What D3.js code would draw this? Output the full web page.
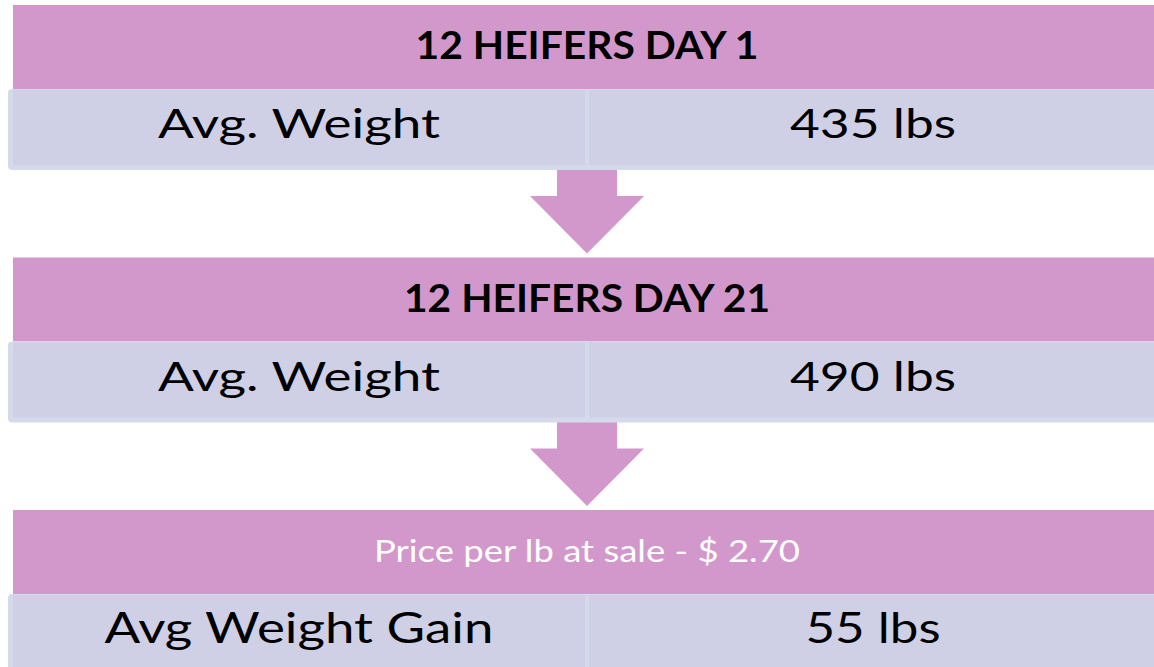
<!DOCTYPE html>
<html>
<head>
<meta charset="utf-8">
<script src="https://cdn.jsdelivr.net/npm/d3@7"></script>
<style>
  html, body { margin: 0; padding: 0; background: #ffffff; }
  svg { display: block; }
</style>
</head>
<body>
<svg id="chart" width="1154" height="667"></svg>
<script>
// ---- data ----
const steps = [0, 1, 2];
const headers = ["12 HEIFERS DAY 1", "12 HEIFERS DAY 21", "Price per lb at sale - $ 2.70"];
const labels = ["Avg. Weight", "Avg. Weight", "Avg Weight Gain"];
const values = ["435 lbs", "490 lbs", "55 lbs"];
const columns = ["label", "value"];

// ---- layout (rendered text widths, matching the original typeface) ----
const headerWidths = [343, 366, 426];
const labelWidths = [282, 282, 389];
const valueWidths = [166, 166, 135];

const W = 1154, H = 667;
const pink = "#D398CB", lav = "#CFD0E6", edge = "#D4DAEA";
const svg = d3.select("#chart");

const y = d3.scaleLinear().domain([0, 2]).range([5, 510]);    // top of each block
const x = d3.scaleBand().domain(columns).range([13, 1161]).padding(0);
const headerH = 84, rowH = 81;
const font = "Lato, 'Open Sans', sans-serif";

// arrows
const mid = x("value");
const arrowG = svg.append("g");
steps.slice(0, 2).forEach(i => {
  const top = y(i) + headerH + rowH - 5;
  const base = y(i) + headerH + rowH + 26;
  const tip = y(i + 1) - 4;
  const p = d3.path();
  p.moveTo(mid - 30, top);
  p.lineTo(mid + 30, top);
  p.lineTo(mid + 30, base);
  p.lineTo(mid + 57, base);
  p.lineTo(mid, tip);
  p.lineTo(mid - 57, base);
  p.lineTo(mid - 30, base);
  p.closePath();
  arrowG.append("path").attr("d", p.toString()).attr("fill", pink);
});

const blocks = svg.selectAll("g.block").data(steps).join("g").attr("class", "block");

// header bars
blocks.append("rect")
  .attr("x", 13).attr("y", i => y(i))
  .attr("width", W).attr("height", headerH)
  .attr("fill", pink);

// rows: outer edge + inner fill
blocks.append("rect")
  .attr("x", 8).attr("y", i => y(i) + headerH)
  .attr("width", W + 20).attr("height", rowH)
  .attr("rx", 4)
  .attr("fill", edge);
blocks.append("rect")
  .attr("x", 13).attr("y", i => y(i) + headerH + 1)
  .attr("width", W).attr("height", rowH - 6)
  .attr("fill", lav);
// divider
blocks.append("rect")
  .attr("x", mid - 2).attr("y", i => y(i) + headerH + 1)
  .attr("width", 4).attr("height", rowH - 6)
  .attr("fill", edge);

// header text
blocks.append("text")
  .attr("x", mid)
  .attr("y", i => y(i) + (i === 2 ? 52 : 54))
  .attr("text-anchor", "middle")
  .attr("font-family", font)
  .attr("font-weight", i => i === 2 ? 400 : 700)
  .attr("font-size", i => i === 2 ? 31 : 38)
  .attr("fill", i => i === 2 ? "#ffffff" : "#000000")
  .attr("textLength", i => headerWidths[i])
  .attr("lengthAdjust", "spacingAndGlyphs")
  .text(i => headers[i]);

// row texts
blocks.append("text")
  .attr("x", x("label") + x.bandwidth() / 2 - 1)
  .attr("y", i => y(i) + headerH + 49)
  .attr("text-anchor", "middle")
  .attr("font-family", font)
  .attr("font-size", i => i === 2 ? 42 : 41)
  .attr("fill", "#000")
  .attr("textLength", i => labelWidths[i])
  .attr("lengthAdjust", "spacingAndGlyphs")
  .text(i => labels[i]);
blocks.append("text")
  .attr("x", x("value") + x.bandwidth() / 2 - 1)
  .attr("y", i => y(i) + headerH + 49)
  .attr("text-anchor", "middle")
  .attr("font-family", font)
  .attr("font-size", i => i === 2 ? 42 : 41)
  .attr("fill", "#000")
  .attr("textLength", i => valueWidths[i])
  .attr("lengthAdjust", "spacingAndGlyphs")
  .text(i => values[i]);
</script>
</body>
</html>
